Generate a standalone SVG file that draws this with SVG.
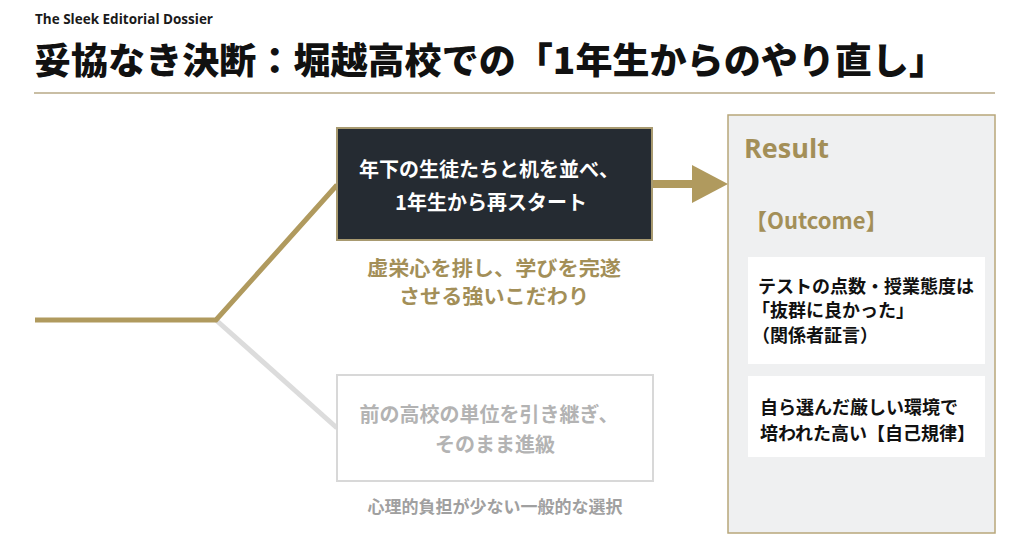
<svg xmlns="http://www.w3.org/2000/svg" width="1024" height="555" viewBox="0 0 1024 555">
<style>
text{font-family:"Noto Sans CJK JP","Noto Sans",sans-serif;font-weight:700}
.gold{fill:#a38f58}
.wtxt{fill:#ffffff;font-size:20px}
.gtxt{fill:#b3b3b3;font-size:20px}
.ctxt{fill:#111111;font-size:18px}
.card{fill:#ffffff}
</style>
<rect width="1024" height="555" fill="#ffffff"/>
<g id="header">
<text x="35" y="24" style="font-family:'Open Sans','Noto Sans',sans-serif;font-size:13.5px;fill:#1a1a1a" textLength="178" lengthAdjust="spacingAndGlyphs">The Sleek Editorial Dossier</text>
<text x="34" y="74" style="font-size:36px;font-weight:900;fill:#111111" textLength="912" lengthAdjust="spacingAndGlyphs">妥協なき決断：堀越高校での「1年生からのやり直し」</text>
<line x1="34" y1="93" x2="995" y2="93" stroke="#c9bea4" stroke-width="2"/>
</g>
<g id="connectors" fill="none" stroke-linejoin="miter">
<polyline points="216,320 337,428" stroke="#dcdcdc" stroke-width="5"/>
<polyline points="35,320 216,320 337,185" stroke="#b09a5e" stroke-width="5"/>
<line x1="652" y1="184" x2="694" y2="184" stroke="#b09a5e" stroke-width="8"/>
<polygon points="692,165 728,184 692,203" fill="#b09a5e" stroke="none"/>
</g>
<g id="node-choice">
<rect x="337" y="128" width="315" height="112" fill="#252b32" stroke="#a89a70" stroke-width="2"/>
<text class="wtxt" x="489" y="177" text-anchor="middle">年下の生徒たちと机を並べ、</text>
<text class="wtxt" x="491" y="210" text-anchor="middle">1年生から再スタート</text>
</g>
<g id="label-choice">
<text class="gold" x="494" y="276" text-anchor="middle" style="font-size:20px" textLength="254" lengthAdjust="spacingAndGlyphs">虚栄心を排し、学びを完遂</text>
<text class="gold" x="494" y="304" text-anchor="middle" style="font-size:20px" textLength="190" lengthAdjust="spacingAndGlyphs">させる強いこだわり</text>
</g>
<g id="node-alt">
<rect x="337" y="375" width="316" height="106" fill="#ffffff" stroke="#d8d8d8" stroke-width="2"/>
<text class="gtxt" x="489" y="422" text-anchor="middle">前の高校の単位を引き継ぎ、</text>
<text class="gtxt" x="495" y="452" text-anchor="middle">そのまま進級</text>
</g>
<g id="label-alt">
<text x="495" y="513" text-anchor="middle" style="font-size:17px;fill:#a0a0a0">心理的負担が少ない一般的な選択</text>
</g>
<g id="node-result">
<rect x="728" y="115" width="267" height="418" fill="#eff0f1" stroke="#b8a77a" stroke-width="1.5"/>
<text class="gold" x="744" y="158" style="font-family:'Open Sans','Noto Sans',sans-serif;font-size:27px">Result</text>
<text class="gold" x="745" y="229" style="font-size:22px">【Outcome】</text>
<rect class="card" x="748" y="257" width="237" height="107"/>
<text class="ctxt" x="758" y="293">テストの点数・授業態度は</text>
<text class="ctxt" x="752" y="317">「抜群に良かった」</text>
<text class="ctxt" x="752" y="342">（関係者証言）</text>
<rect class="card" x="748" y="376" width="237" height="81"/>
<text class="ctxt" x="760" y="414">自ら選んだ厳しい環境で</text>
<text class="ctxt" x="760" y="440">培われた高い【自己規律】</text>
</g>
</svg>
